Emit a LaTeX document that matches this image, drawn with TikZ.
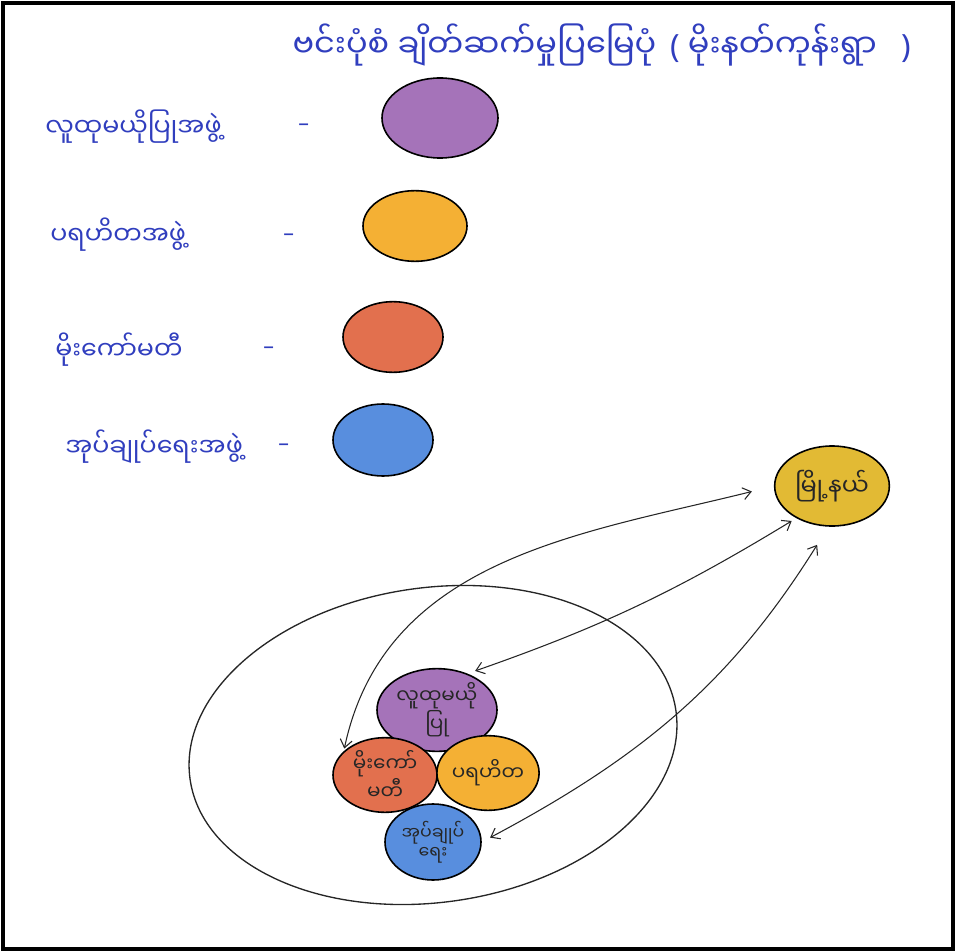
\documentclass[tikz,border=0pt]{standalone}
\usepackage{fontspec}
\newfontfamily\myan[Script=Myanmar]{Noto Sans Myanmar UI}
\newfontfamily\latn{Noto Sans}
\usepackage{tikz}
\usetikzlibrary{arrows, arrows.meta, positioning, shapes}
\definecolor{inkblue}{RGB}{48,62,190}
\definecolor{cpurple}{RGB}{165,115,185}
\definecolor{corange}{RGB}{244,176,52}
\definecolor{cred}{RGB}{226,112,78}
\definecolor{cblue}{RGB}{88,142,222}
\definecolor{cyellow}{RGB}{226,186,52}
\tikzset{
	blob/.style={ellipse, draw=black, line width=1.2pt, inner sep=0pt, align=center,
		font=\myan\fontsize{15}{15}\selectfont, text=black!85},
	key/.style={anchor=west, inner sep=0pt, text=inkblue, font=\myan\fontsize{19}{22}\selectfont},
	dashkey/.style={key, font=\latn\fontsize{16}{18}\selectfont},
	link/.style={{Straight Barb[length=6pt,width=9pt]}-{Straight Barb[length=6pt,width=9pt]}, line width=0.8pt, black!85},
}
\begin{document}
\begin{tikzpicture}[x=0.75pt, y=-0.75pt]
		\useasboundingbox (0,0) rectangle (956,952);
			\draw[line width=3pt] (3,3) rectangle (953,949);
			
			%title
			\node[key, anchor=center, font=\myan\fontsize{24}{26}\selectfont] (title) at (602,45)
				{ဗင်းပုံစံ ချိတ်ဆက်မှုပြမြေပုံ {\latn\,(} မိုးနတ်ကုန်းရွာ {\latn\ \ )}};
			
			%legend:
			\node[blob, fill=cpurple, minimum width=87pt, minimum height=60pt] (lp) at (440,118) {};
			\node[blob, fill=corange, minimum width=78pt, minimum height=53pt] (lo) at (415,226) {};
			\node[blob, fill=cred, minimum width=75pt, minimum height=53pt] (lr) at (393,337) {};
			\node[blob, fill=cblue, minimum width=75pt, minimum height=54pt] (lb) at (383,440) {};
			
			\node[key] (tp) at (45,127) {လူထုမယိုပြုအဖွဲ့};
			\node[key] (to) at (50,235) {ပရဟိတအဖွဲ့};
			\node[key] (tr) at (55,350) {မိုးကော်မတီ};
			\node[key] (tb) at (65,447) {အုပ်ချုပ်ရေးအဖွဲ့};
			\node[dashkey] (dp) at (298,127) {–};
			\node[dashkey] (do) at (283,237) {–};
			\node[dashkey] (dr) at (263,350) {–};
			\node[dashkey] (db) at (278,447) {–};
			
			%township
			\node[blob, fill=cyellow, minimum width=86pt, minimum height=60pt, font=\myan\fontsize{18}{18}\selectfont] (ty) at (832,486) {မြို့နယ်};
			
			%village
			\node[ellipse, draw=black!85, line width=1pt, minimum width=368pt, minimum height=236pt, rotate=8] (vill) at (433,745) {};
			\node[blob, fill=cpurple, minimum width=90pt, minimum height=62pt] (ip) at (437,710) {လူထုမယို\\ပြု};
			\node[blob, fill=cred, minimum width=78pt, minimum height=56pt] (ir) at (385,775) {မိုးကော်\\မတီ};
			\node[blob, fill=corange, minimum width=75pt, minimum height=56pt] (io) at (488,773) {ပရဟိတ};
			\node[blob, fill=cblue, minimum width=72pt, minimum height=57pt, font=\myan\fontsize{13}{14}\selectfont] (ib) at (433,842) {အုပ်ချုပ်\\ရေး};
			
			%links
			\draw[link, shorten <=17pt, shorten >=2pt] (ty.west) to[out=194, in=78] (ir.150);
			\draw[link, shorten <=4pt, shorten >=6pt] (ty.222) to[bend left=6] (ip.50);
			\draw[link, shorten <=16pt, shorten >=7pt] (ty.265) to[out=238, in=28] (ib.east);
	\end{tikzpicture}
\end{document}
